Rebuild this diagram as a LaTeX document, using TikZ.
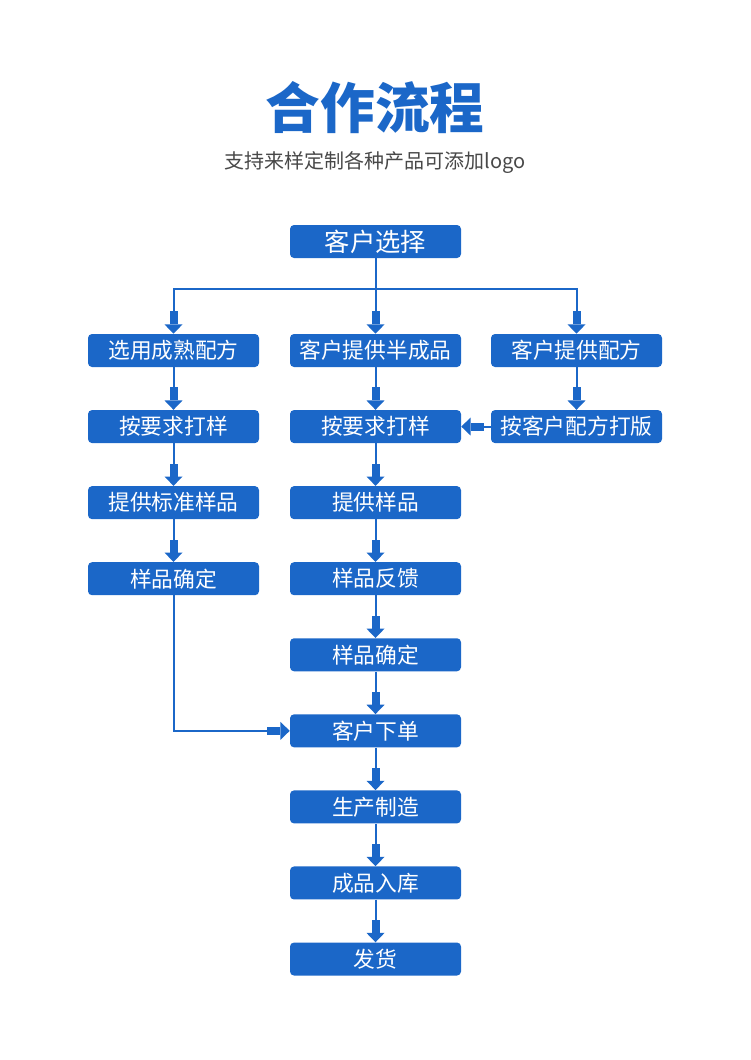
\documentclass[tikz,border=0pt]{standalone}
\usepackage{fontspec}
\setmainfont{Noto Sans CJK SC}
\usetikzlibrary{arrows.meta, positioning}
\definecolor{FlowBlue}{RGB}{27, 103, 200}
\definecolor{SubGray}{RGB}{72, 72, 72}

\begin{document}
\begin{tikzpicture}[x=0.75pt, y=-0.75pt, node distance=31.9pt]
    % --- Styles ---
    \tikzstyle{box}=[fill=FlowBlue, rounded corners=3pt, minimum width=128.25pt, minimum height=24.75pt, inner sep=0pt, text=white, font=\fontsize{16.3}{16.3}\selectfont]
    \tikzstyle{link}=[FlowBlue, line width=1.5pt]
    \tikzstyle{flow}=[link, -{Rectangle[line width=0pt, length=9.75pt, width=6pt] Triangle[line width=0pt, length=7pt, width=13.5pt]}]

    \useasboundingbox (0,0) rectangle (750,1060);

    % --- 1. Heading ---
    \node[font=\fontsize{41}{41}\selectfont\bfseries, text=FlowBlue] (title) at (375,108) {合作流程};
    \node[font=\fontsize{15}{15}\selectfont, text=SubGray] (subtitle) at (375,163) {支持来样定制各种产品可添加logo};

    % --- 2. Customer choice and the three branches ---
    \node[box, font=\fontsize{19}{19}\selectfont] (choose) at (375.5,241.5) {客户选择};
    \coordinate (fork) at (375.5,289);
    \node[box] (mature) at (173.5,350.5) {选用成熟配方};
    \node[box] (semi) at (375.5,350.5) {客户提供半成品};
    \node[box] (own) at (576.5,350.5) {客户提供配方};

    % --- 3. Left column ---
    \node[box, below=of mature] (sampleA) {按要求打样};
    \node[box, below=of sampleA] (stdA) {提供标准样品};
    \node[box, below=of stdA] (okA) {样品确定};

    % --- 4. Right column ---
    \node[box, below=of own] (draft) {按客户配方打版};

    % --- 5. Main column ---
    \node[box, below=of semi] (sampleB) {按要求打样};
    \node[box, below=of sampleB] (give) {提供样品};
    \node[box, below=of give] (feedback) {样品反馈};
    \node[box, below=of feedback] (okB) {样品确定};
    \node[box, below=of okB] (order) {客户下单};
    \node[box, below=of order] (produce) {生产制造};
    \node[box, below=of produce] (store) {成品入库};
    \node[box, below=of store] (ship) {发货};

    % --- 6. Connectors ---
    \draw[link] (choose) -- (fork);
    \draw[flow] (fork) -| (mature);
    \draw[flow] (fork) -- (semi);
    \draw[flow] (fork) -| (own);
    \foreach \a/\b in {mature/sampleA, sampleA/stdA, stdA/okA, own/draft, draft/sampleB,
        semi/sampleB, sampleB/give, give/feedback, feedback/okB, okB/order,
        order/produce, produce/store, store/ship}
        \draw[flow] (\a) -- (\b);
    \draw[flow] (okA) |- (order);

\end{tikzpicture}
\end{document}
